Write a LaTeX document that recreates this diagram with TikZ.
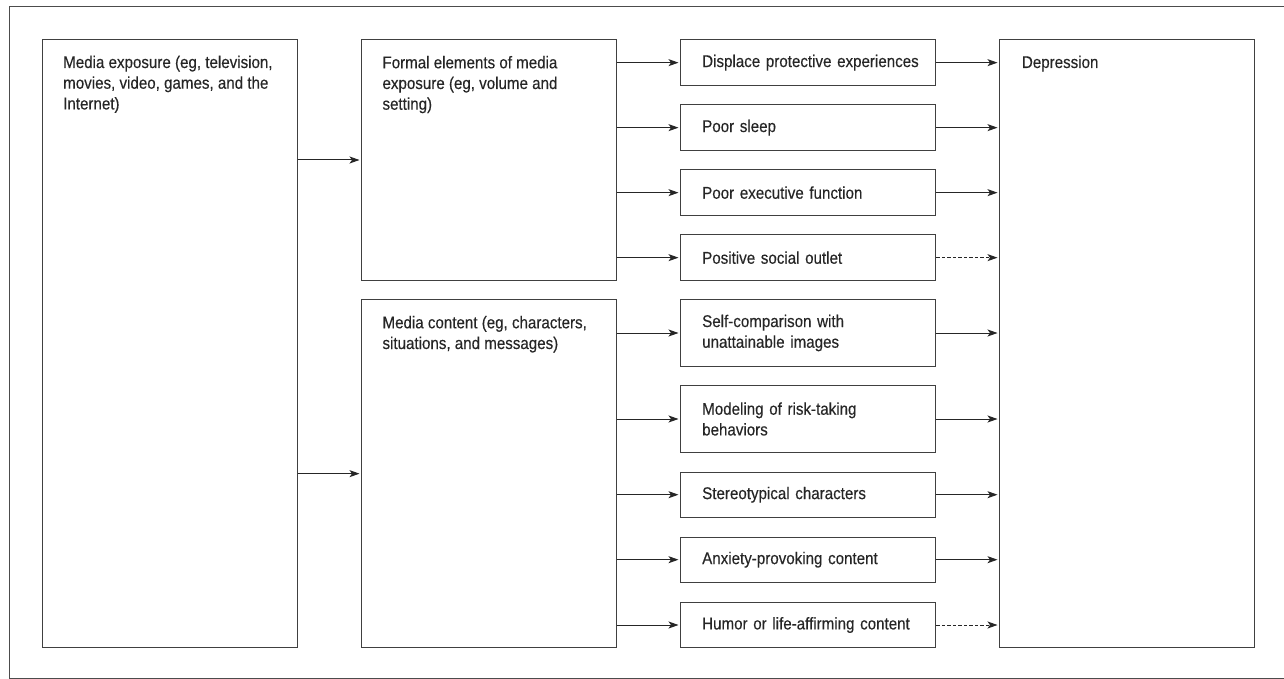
\documentclass[tikz,border=0pt]{standalone}
\usepackage{fontspec}
\setmainfont[FakeStretch=0.89,FakeBold=0.3]{Liberation Sans}
\usetikzlibrary{arrows.meta}
\begin{document}
\begin{tikzpicture}[x=1pt,y=-1pt,
  box/.style={draw=black!75, line width=1pt, inner sep=0pt, anchor=north west},
  smallbox/.style={box, minimum width=255.3pt, text width=211.9pt, inner xsep=21.7pt, align=left,
    font=\fontsize{17}{20.7}\selectfont, text=black!85},
  txt/.style={anchor=base west, inner sep=0pt, font=\fontsize{17}{20.7}\selectfont, text=black!85},
  arr/.style={draw=black!85, line width=1pt, -{Stealth[length=10pt,width=7pt,inset=2.5pt]}, shorten >=1.5pt},
  darr/.style={arr, dash pattern=on 3.5pt off 2pt}
]
\useasboundingbox (0,0) rectangle (1284,679);
\draw[black!70, line width=1pt] (1290,7) -- (9,7) -- (9,678) -- (1290,678);

% big boxes
\node[box, minimum width=255pt, minimum height=608pt] (media) at (41.7,39) {};
\node[txt] (mediatxt) at (63,68) {\parbox[t]{230pt}{\raggedright Media exposure (eg, television,\\ movies, video, games, and the\\ Internet)}};

\node[box, minimum width=254.7pt, minimum height=241pt] (formal) at (361,39) {};
\node[txt] (formaltxt) at (382.3,68.3) {\parbox[t]{230pt}{\raggedright Formal elements of media\\ exposure (eg, volume and\\ setting)}};

\node[box, minimum width=254.7pt, minimum height=347.7pt] (content) at (361,299.3) {};
\node[txt] (contenttxt) at (382.3,328.3) {\parbox[t]{230pt}{\raggedright Media content (eg, characters,\\ situations, and messages)}};

\node[box, minimum width=255pt, minimum height=608pt] (dep) at (999,39) {};
\node[txt] (deptxt) at (1021.7,68) {Depression};

% small boxes
\node[smallbox, minimum height=45.7pt] (disp) at (680,39.3) {\mbox{Displace protective experiences}};
\node[smallbox, minimum height=45.7pt] (sleep) at (680,104.3) {Poor sleep};
\node[smallbox, minimum height=45.7pt] (exec) at (680,169.3) {\mbox{Poor executive function}};
\node[smallbox, minimum height=45.7pt] (pos) at (680,234.3) {\mbox{Positive social outlet}};
\node[smallbox, minimum height=66.4pt] (self) at (680,299.3) {Self-comparison with\\ unattainable images};
\node[smallbox, minimum height=66.4pt] (model) at (680,385.3) {Modeling of risk-taking\\ behaviors};
\node[smallbox, minimum height=45pt] (stereo) at (680,471.7) {\mbox{Stereotypical characters}};
\node[smallbox, minimum height=45pt] (anx) at (680,536.7) {\mbox{Anxiety-provoking content}};
\node[smallbox, minimum height=45.6pt] (humor) at (680,601.7) {\mbox{Humor or life-affirming content}};

% arrows
\draw[arr] (media.east |- formal.west) -- (formal.west);
\draw[arr] (media.east |- content.west) -- (content.west);
\foreach \b in {disp,sleep,exec,pos}{
  \draw[arr] (formal.east |- \b.west) -- (\b.west);
}
\foreach \b in {self,model,stereo,anx,humor}{
  \draw[arr] (content.east |- \b.west) -- (\b.west);
}
\foreach \b in {disp,sleep,exec,self,model,stereo,anx}{
  \draw[arr] (\b.east) -- (\b.east -| dep.west);
}
\foreach \b in {pos,humor}{
  \draw[darr] (\b.east) -- (\b.east -| dep.west);
}
\end{tikzpicture}
\end{document}
